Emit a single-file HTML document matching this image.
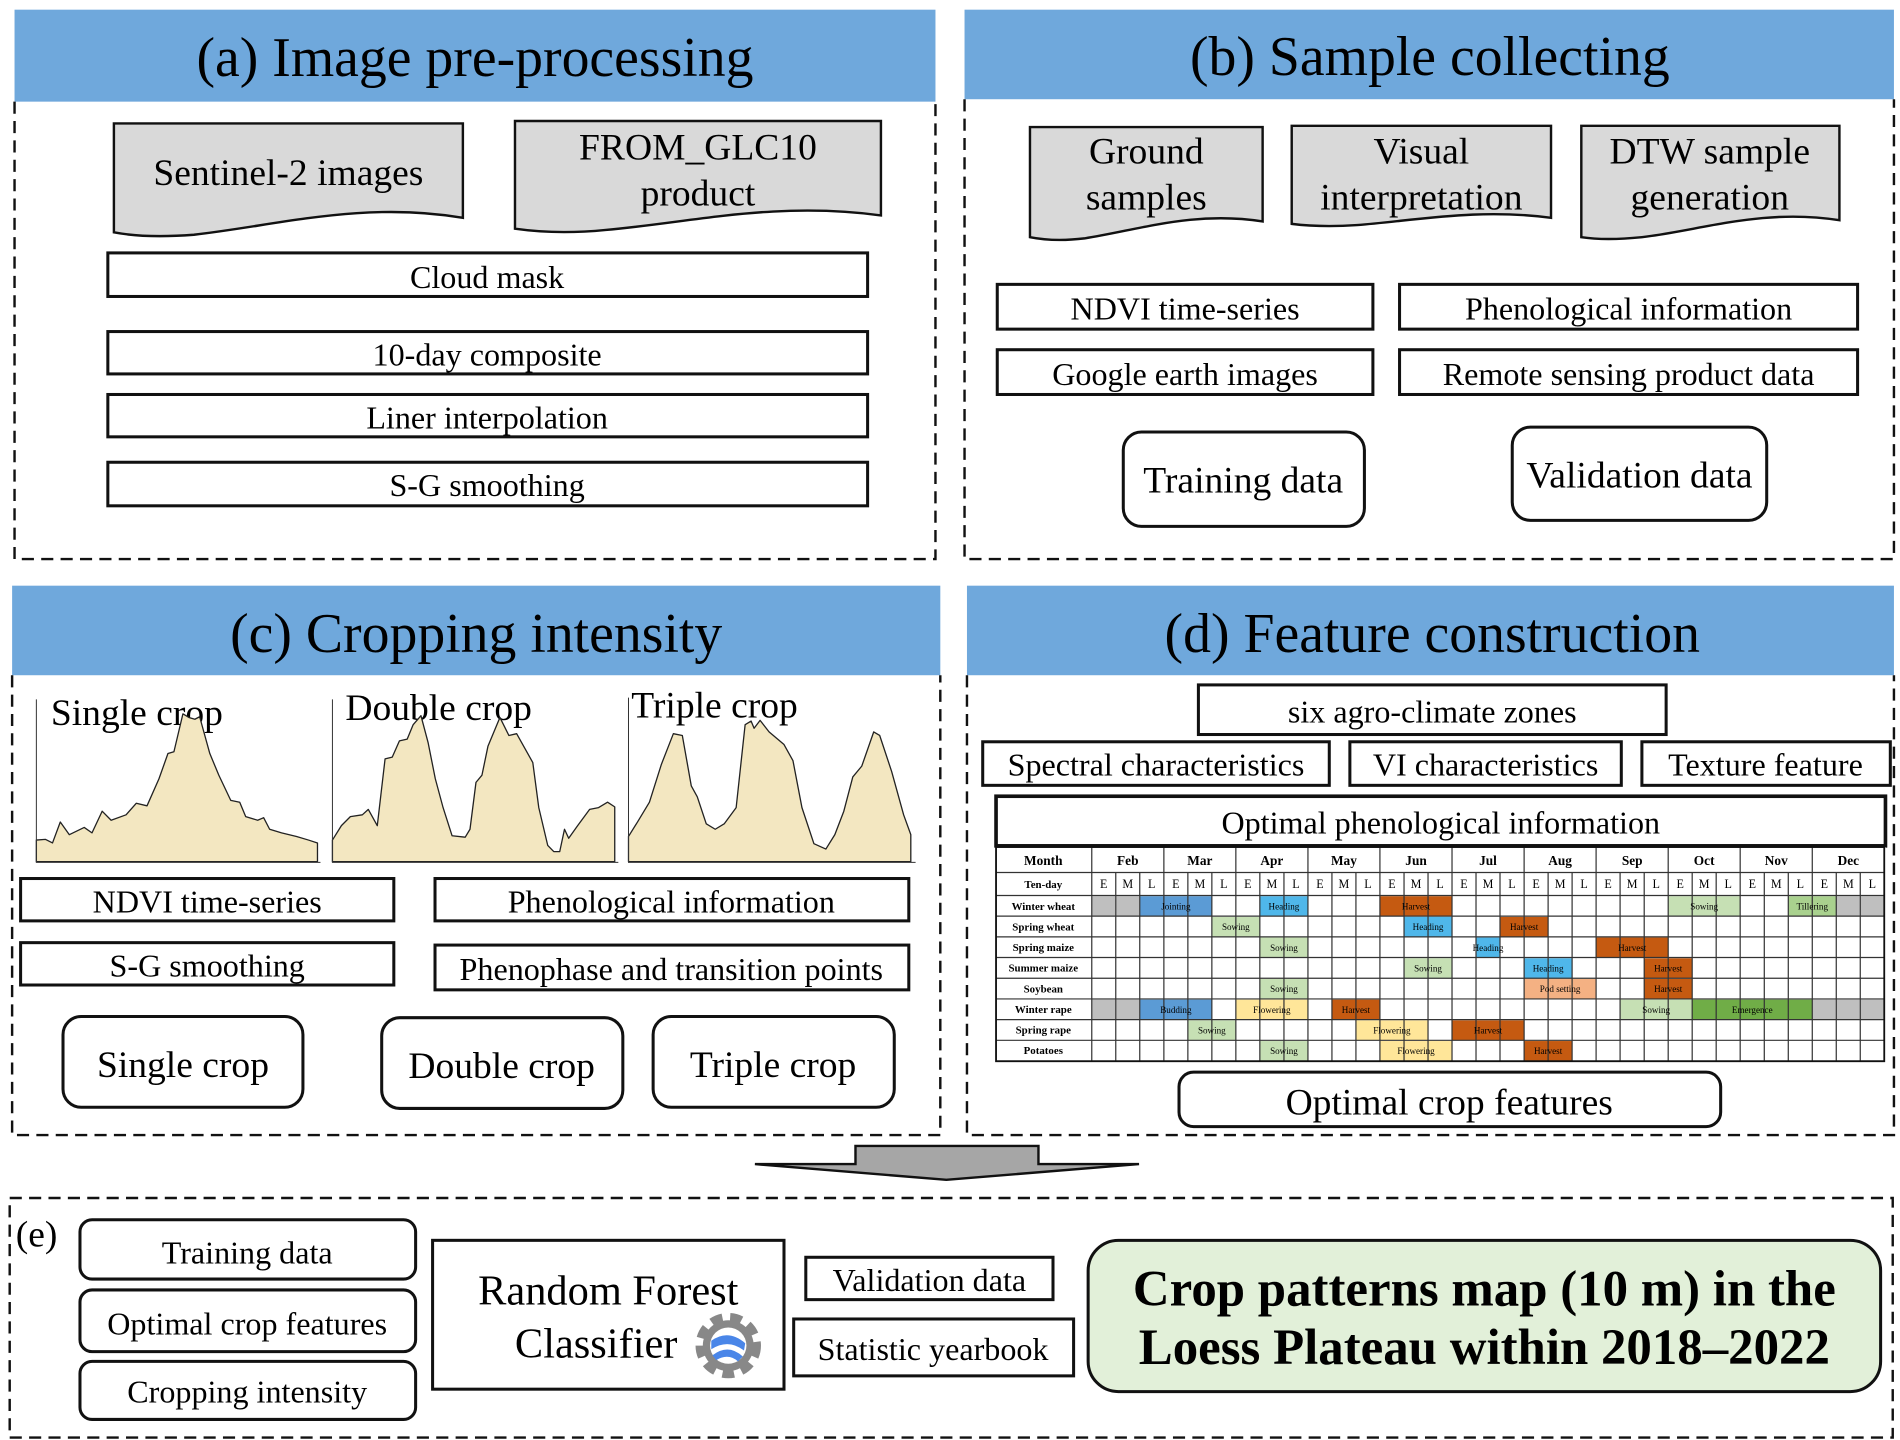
<!DOCTYPE html>
<html><head><meta charset="utf-8"><style>
html,body{margin:0;padding:0;background:#fff;}
svg{display:block;}
text{font-family:"Liberation Serif",serif;fill:#000;}
</style></head><body>
<svg width="1900" height="1440" viewBox="0 0 1568 1190" preserveAspectRatio="none" xmlns="http://www.w3.org/2000/svg">
<rect width="1568" height="1190" fill="#fff"/>
<g fill="#6fa8dc">
<rect x="12" y="8" width="760" height="76"/>
<rect x="796" y="8" width="767" height="74"/>
<rect x="10" y="484" width="766" height="74"/>
<rect x="798" y="484" width="765" height="74"/>
</g>
<g fill="none" stroke="#111" stroke-width="2" stroke-dasharray="10,6">
<path d="M12 84 V462 H772 V84"/>
<path d="M796 82 V462 H1563 V82"/>
<path d="M10 558 V938 H776 V558"/>
<path d="M798 558 V938 H1563 V558"/>
<rect x="8" y="990" width="1554" height="198"/>
</g>
<g font-size="46" text-anchor="middle">
<text x="392" y="63">(a) Image pre-processing</text>
<text x="1180" y="62">(b) Sample collecting</text>
<text x="393" y="539">(c) Cropping intensity</text>
<text x="1182" y="539">(d) Feature construction</text>
</g>

<g fill="#d9d9d9" stroke="#111" stroke-width="2">
<path d="M94 102 H382 V180 C300 166,230 186,160 194 Q120 197 94 192 Z"/>
<path d="M425 100 H727 V178 C640 166,570 184,500 190 Q460 194 425 189 Z"/>
<path d="M850 105 H1042 V183 C985 174,940 190,895 197 Q870 200 850 196 Z"/>
<path d="M1066 104 H1280 V180 C1220 172,1170 182,1120 186 Q1090 188 1066 185 Z"/>
<path d="M1305 104 H1518 V182 C1455 172,1405 190,1355 196 Q1325 199 1305 196 Z"/>
</g>
<g font-size="31" text-anchor="middle">
<text x="238" y="153">Sentinel-2 images</text>
<text x="576" y="132">FROM_GLC10</text>
<text x="576" y="170">product</text>
<text x="946" y="135">Ground</text>
<text x="946" y="173">samples</text>
<text x="1173" y="135">Visual</text>
<text x="1173" y="173">interpretation</text>
<text x="1411" y="135">DTW sample</text>
<text x="1411" y="173">generation</text>
</g>
<g fill="#fff" stroke="#111" stroke-width="2.5">
<rect x="89" y="209" width="627" height="36"/>
<rect x="89" y="274" width="627" height="35"/>
<rect x="89" y="326" width="627" height="35"/>
<rect x="89" y="382" width="627" height="36"/>
<rect x="823" y="235" width="310" height="37"/>
<rect x="1155" y="235" width="378" height="37"/>
<rect x="823" y="289" width="310" height="37"/>
<rect x="1155" y="289" width="378" height="37"/>
<rect x="927" y="357" width="199" height="78" rx="15"/>
<rect x="1248" y="353" width="210" height="77" rx="15"/>
<rect x="17" y="726" width="308" height="35"/>
<rect x="359" y="726" width="391" height="35"/>
<rect x="17" y="779" width="308" height="35"/>
<rect x="359" y="781" width="391" height="37"/>
<rect x="52" y="840" width="198" height="75" rx="15"/>
<rect x="315" y="841" width="199" height="75" rx="15"/>
<rect x="539" y="840" width="199" height="75" rx="15"/>
<rect x="989" y="566" width="386" height="41"/>
<rect x="811" y="613" width="286" height="36"/>
<rect x="1114" y="613" width="224" height="36"/>
<rect x="1355" y="613" width="205" height="36"/>
<rect x="822" y="658" width="734" height="41" stroke-width="3"/>
<rect x="973" y="886" width="447" height="45" rx="12"/>
<rect x="66" y="1008" width="277" height="49" rx="10"/>
<rect x="66" y="1066" width="277" height="51" rx="10"/>
<rect x="66" y="1125" width="277" height="48" rx="10"/>
<rect x="357" y="1025" width="290" height="123"/>
<rect x="665" y="1039" width="204" height="35"/>
<rect x="655" y="1090" width="231" height="47"/>
</g>
<rect x="898" y="1025" width="654" height="125" rx="25" fill="#e2f0d9" stroke="#111" stroke-width="2.5"/>
<g font-size="26.5" text-anchor="middle">
<text x="402" y="238">Cloud mask</text>
<text x="402" y="302">10-day composite</text>
<text x="402" y="354">Liner interpolation</text>
<text x="402" y="410">S-G smoothing</text>
<text x="978" y="264">NDVI time-series</text>
<text x="1344" y="264">Phenological information</text>
<text x="978" y="318">Google earth images</text>
<text x="1344" y="318">Remote sensing product data</text>
<text x="171" y="754">NDVI time-series</text>
<text x="554" y="754">Phenological information</text>
<text x="171" y="807">S-G smoothing</text>
<text x="554" y="810">Phenophase and transition points</text>
<text x="1182" y="597">six agro-climate zones</text>
<text x="954" y="641">Spectral characteristics</text>
<text x="1226" y="641">VI characteristics</text>
<text x="1457" y="641">Texture feature</text>
<text x="1189" y="689">Optimal phenological information</text>
<text x="204" y="1044">Training data</text>
<text x="204" y="1103">Optimal crop features</text>
<text x="204" y="1159">Cropping intensity</text>
<text x="767" y="1067">Validation data</text>
<text x="770" y="1124">Statistic yearbook</text>
</g>
<g font-size="31" text-anchor="middle">
<text x="1026" y="407">Training data</text>
<text x="1353" y="403">Validation data</text>
<text x="151" y="890">Single crop</text>
<text x="414" y="891">Double crop</text>
<text x="638" y="890">Triple crop</text>
<text x="1196" y="921">Optimal crop features</text>
<text x="13" y="1030" text-anchor="start">(e)</text>
</g>
<g font-size="35" text-anchor="middle">
<text x="502" y="1078">Random Forest</text>
<text x="492" y="1122">Classifier</text>
</g>
<g font-size="42" font-weight="bold" text-anchor="middle">
<text x="1225" y="1079">Crop patterns map (10 m) in the</text>
<text x="1225" y="1127">Loess Plateau within 2018–2022</text>
</g>
<g transform="translate(601,1112)">
<circle r="22" fill="none" stroke="#888" stroke-width="10" stroke-dasharray="9,6"/>
<circle r="21" fill="#888"/>
<circle r="15" fill="#fff"/>
<path d="M-14 -4 Q0 -14 14 -2 L13 4 Q0 -6 -14 3 Z" fill="#4a86e8"/>
<path d="M-13 8 Q0 -2 12 9 L8 13 Q0 6 -10 12 Z" fill="#4a86e8"/>
</g>
<path d="M706 947 H857 V962 H940 L781 975 L623 962 H706 Z" fill="#a6a6a6" stroke="#111" stroke-width="2"/>

<g font-size="31">
<text x="42" y="599">Single crop</text>
<text x="285" y="595">Double crop</text>
<text x="521" y="593">Triple crop</text>
</g>
<g transform="translate(7.8,548.2) scale(0.4936,0.298)">
<g fill="#f3e7c1" stroke="#222" stroke-width="1.3" stroke-linejoin="round" vector-effect="non-scaling-stroke">
<path vector-effect="non-scaling-stroke" d="M45 550 L45 490 L60 488 L72 498 L85 440 L100 475 L125 455 L138 470 L155 410 L170 435 L195 420 L212 388 L230 395 L250 320 L265 250 L275 245 L290 140 L300 150 L310 155 L318 148 L335 250 L350 310 L370 380 L385 385 L395 425 L415 435 L425 428 L435 460 L455 470 L480 480 L500 490 L515 498 L515 550 Z"/>
<path vector-effect="non-scaling-stroke" d="M540 550 L540 490 L555 450 L570 425 L590 420 L600 405 L615 450 L628 265 L640 260 L652 215 L665 210 L675 170 L688 145 L700 220 L712 320 L725 400 L740 478 L762 482 L770 460 L780 330 L790 310 L800 230 L820 150 L835 200 L848 195 L875 275 L885 400 L900 505 L910 522 L920 522 L928 460 L935 485 L950 450 L970 405 L985 400 L1000 385 L1012 398 L1012 550 Z"/>
<path vector-effect="non-scaling-stroke" d="M1035 550 L1035 480 L1050 440 L1070 385 L1090 280 L1110 195 L1125 200 L1140 340 L1150 370 L1165 445 L1180 460 L1195 445 L1215 400 L1230 170 L1240 160 L1245 180 L1255 158 L1270 190 L1295 225 L1310 270 L1325 400 L1345 500 L1365 515 L1380 475 L1395 410 L1410 315 L1425 285 L1445 190 L1455 200 L1475 300 L1495 420 L1507 475 L1507 550 Z"/>
</g>
<g stroke="#333" stroke-width="1" fill="none">
<path vector-effect="non-scaling-stroke" d="M45 100 V552 H520"/>
<path vector-effect="non-scaling-stroke" d="M540 100 V552 H1018"/>
<path vector-effect="non-scaling-stroke" d="M1035 95 V552 H1515"/>
</g>
</g>

<rect x="822" y="700" width="734" height="177" fill="#fff"/>
<g>
<rect x="901" y="740.6" width="19.2" height="16" fill="#bfbfbf"/>
<rect x="920.8" y="740.6" width="19.2" height="16" fill="#bfbfbf"/>
<rect x="940.6" y="740.6" width="59.5" height="16.5" fill="#5b9bd5"/>
<rect x="1039.7" y="740.6" width="39.7" height="16.5" fill="#4fb7ea"/>
<rect x="1138.8" y="740.6" width="59.5" height="16.5" fill="#c55a11"/>
<rect x="1376.7" y="740.6" width="59.4" height="16.5" fill="#c6e0b4"/>
<rect x="1475.8" y="740.6" width="39.6" height="16.5" fill="#a9d18e"/>
<rect x="1515.4" y="740.6" width="19.2" height="16" fill="#bfbfbf"/>
<rect x="1535.2" y="740.6" width="19.2" height="16" fill="#bfbfbf"/>
<rect x="1000.1" y="757.7" width="39.6" height="16.5" fill="#c6e0b4"/>
<rect x="1158.7" y="757.7" width="39.6" height="16.5" fill="#4fb7ea"/>
<rect x="1237.9" y="757.7" width="39.7" height="16.5" fill="#c55a11"/>
<rect x="1039.7" y="774.8" width="39.7" height="16.5" fill="#c6e0b4"/>
<rect x="1218.1" y="774.8" width="19.8" height="16.5" fill="#4fb7ea"/>
<rect x="1317.2" y="774.8" width="59.5" height="16.5" fill="#c55a11"/>
<rect x="1158.7" y="791.9" width="39.6" height="16.5" fill="#c6e0b4"/>
<rect x="1257.8" y="791.9" width="39.6" height="16.5" fill="#4fb7ea"/>
<rect x="1356.9" y="791.9" width="39.6" height="16.5" fill="#c55a11"/>
<rect x="1039.7" y="809" width="39.7" height="16.5" fill="#c6e0b4"/>
<rect x="1257.8" y="809" width="59.4" height="16.5" fill="#f4b183"/>
<rect x="1356.9" y="809" width="39.6" height="16.5" fill="#c55a11"/>
<rect x="901" y="826.1" width="19.2" height="16" fill="#bfbfbf"/>
<rect x="920.8" y="826.1" width="19.2" height="16" fill="#bfbfbf"/>
<rect x="940.6" y="826.1" width="59.5" height="16.5" fill="#5b9bd5"/>
<rect x="1019.9" y="826.1" width="59.5" height="16.5" fill="#ffe699"/>
<rect x="1099.2" y="826.1" width="39.6" height="16.5" fill="#c55a11"/>
<rect x="1337" y="826.1" width="59.5" height="16.5" fill="#c6e0b4"/>
<rect x="1396.5" y="826.1" width="99.1" height="16.5" fill="#70ad47"/>
<rect x="1495.6" y="826.1" width="19.2" height="16" fill="#bfbfbf"/>
<rect x="1515.4" y="826.1" width="19.2" height="16" fill="#bfbfbf"/>
<rect x="1535.2" y="826.1" width="19.2" height="16" fill="#bfbfbf"/>
<rect x="980.3" y="843.2" width="39.6" height="16.5" fill="#c6e0b4"/>
<rect x="1119" y="843.2" width="59.5" height="16.5" fill="#ffe699"/>
<rect x="1198.3" y="843.2" width="59.5" height="16.5" fill="#c55a11"/>
<rect x="1039.7" y="860.3" width="39.7" height="16.5" fill="#c6e0b4"/>
<rect x="1138.8" y="860.3" width="59.5" height="16.5" fill="#ffe699"/>
<rect x="1257.8" y="860.3" width="39.6" height="16.5" fill="#c55a11"/>
</g>
<g stroke="#333" stroke-width="1" fill="none">
<path d="M822 721 H1555 M822 740 H1555 M822 757.1 H1555 M822 774.2 H1555 M822 791.3 H1555 M822 808.4 H1555 M822 825.5 H1555 M822 842.6 H1555 M822 859.7 H1555 M822 876.8 H1555"/>
<path d="M822 700 V877 M901 700 V877 M960.5 700 V721 M1019.9 700 V721 M1079.4 700 V721 M1138.8 700 V721 M1198.3 700 V721 M1257.8 700 V721 M1317.2 700 V721 M1376.7 700 V721 M1436.1 700 V721 M1495.6 700 V721 M1555 700 V877"/>
<path d="M920.8 721 V877 M940.6 721 V877 M960.5 721 V877 M980.3 721 V877 M1000.1 721 V877 M1019.9 721 V877 M1039.7 721 V877 M1059.6 721 V877 M1079.4 721 V877 M1099.2 721 V877 M1119 721 V877 M1138.8 721 V877 M1158.7 721 V877 M1178.5 721 V877 M1198.3 721 V877 M1218.1 721 V877 M1237.9 721 V877 M1257.8 721 V877 M1277.6 721 V877 M1297.4 721 V877 M1317.2 721 V877 M1337 721 V877 M1356.9 721 V877 M1376.7 721 V877 M1396.5 721 V877 M1416.3 721 V877 M1436.1 721 V877 M1456 721 V877 M1475.8 721 V877 M1495.6 721 V877 M1515.4 721 V877 M1535.2 721 V877"/>
</g>
<g font-size="11" font-weight="bold" text-anchor="middle">
<text x="861" y="715">Month</text>
<text x="930.7" y="715">Feb</text><text x="990.2" y="715">Mar</text><text x="1049.6" y="715">Apr</text><text x="1109.1" y="715">May</text><text x="1168.6" y="715">Jun</text><text x="1228" y="715">Jul</text><text x="1287.5" y="715">Aug</text><text x="1347" y="715">Sep</text><text x="1406.4" y="715">Oct</text><text x="1465.9" y="715">Nov</text><text x="1525.4" y="715">Dec</text>
</g>
<g font-size="9" font-weight="bold" text-anchor="middle">
<text x="861" y="734">Ten-day</text>
<text x="861" y="752">Winter wheat</text>
<text x="861" y="769">Spring wheat</text>
<text x="861" y="786">Spring maize</text>
<text x="861" y="803">Summer maize</text>
<text x="861" y="820">Soybean</text>
<text x="861" y="837">Winter rape</text>
<text x="861" y="854">Spring rape</text>
<text x="861" y="871">Potatoes</text>
</g>
<g font-size="10" text-anchor="middle">
<text x="910.9" y="734">E</text><text x="930.7" y="734">M</text><text x="950.5" y="734">L</text>
<text x="970.4" y="734">E</text><text x="990.2" y="734">M</text><text x="1010" y="734">L</text>
<text x="1029.8" y="734">E</text><text x="1049.6" y="734">M</text><text x="1069.5" y="734">L</text>
<text x="1089.3" y="734">E</text><text x="1109.1" y="734">M</text><text x="1128.9" y="734">L</text>
<text x="1148.7" y="734">E</text><text x="1168.6" y="734">M</text><text x="1188.4" y="734">L</text>
<text x="1208.2" y="734">E</text><text x="1228" y="734">M</text><text x="1247.8" y="734">L</text>
<text x="1267.7" y="734">E</text><text x="1287.5" y="734">M</text><text x="1307.3" y="734">L</text>
<text x="1327.1" y="734">E</text><text x="1347" y="734">M</text><text x="1366.8" y="734">L</text>
<text x="1386.6" y="734">E</text><text x="1406.4" y="734">M</text><text x="1426.2" y="734">L</text>
<text x="1446.1" y="734">E</text><text x="1465.9" y="734">M</text><text x="1485.7" y="734">L</text>
<text x="1505.5" y="734">E</text><text x="1525.4" y="734">M</text><text x="1545.2" y="734">L</text>
</g>
<g font-size="7.5" text-anchor="middle">
<text x="970.4" y="751.5">Jointing</text>
<text x="1059.6" y="751.5">Heading</text>
<text x="1168.6" y="751.5">Harvest</text>
<text x="1406.4" y="751.5">Sowing</text>
<text x="1495.6" y="751.5">Tillering</text>
<text x="1019.9" y="768.6">Sowing</text>
<text x="1178.5" y="768.6">Heading</text>
<text x="1257.8" y="768.6">Harvest</text>
<text x="1059.6" y="785.7">Sowing</text>
<text x="1228" y="785.7">Heading</text>
<text x="1347" y="785.7">Harvest</text>
<text x="1178.5" y="802.8">Sowing</text>
<text x="1277.6" y="802.8">Heading</text>
<text x="1376.7" y="802.8">Harvest</text>
<text x="1059.6" y="819.9">Sowing</text>
<text x="1287.5" y="819.9">Pod setting</text>
<text x="1376.7" y="819.9">Harvest</text>
<text x="970.4" y="837">Budding</text>
<text x="1049.6" y="837">Flowering</text>
<text x="1119" y="837">Harvest</text>
<text x="1366.8" y="837">Sowing</text>
<text x="1446.1" y="837">Emergence</text>
<text x="1000.1" y="854.1">Sowing</text>
<text x="1148.7" y="854.1">Flowering</text>
<text x="1228" y="854.1">Harvest</text>
<text x="1059.6" y="871.2">Sowing</text>
<text x="1168.6" y="871.2">Flowering</text>
<text x="1277.6" y="871.2">Harvest</text>
</g>
<rect x="822" y="700" width="733" height="177" fill="none" stroke="#111" stroke-width="1.5"/>
</svg>
</body></html>
